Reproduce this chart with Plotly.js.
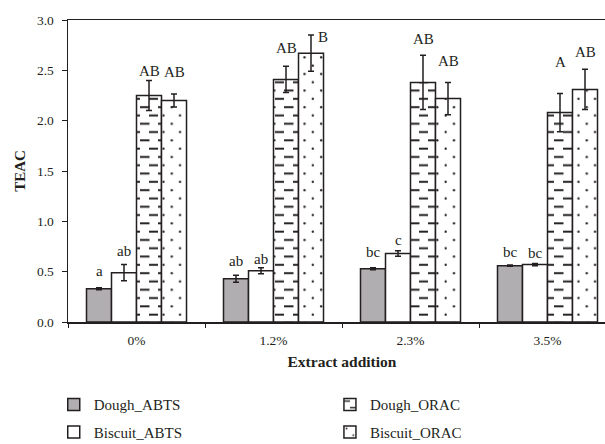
<!DOCTYPE html>
<html>
<head>
<meta charset="utf-8">
<script src="https://cdn.plot.ly/plotly-3.0.1.min.js"></script>
<style>
html, body { margin: 0; padding: 0; overflow: hidden; background: #fff; }
#chart { width: 616px; height: 444px; }
</style>
</head>
<body>
<div id="chart"></div>
<script>
// ---- data ----
var categories = ['0%', '1.2%', '2.3%', '3.5%'];
var seriesNames = ['Dough_ABTS', 'Biscuit_ABTS', 'Dough_ORAC', 'Biscuit_ORAC'];
var doughABTS = [0.33, 0.43, 0.53, 0.56];
var doughABTSErr = [0.01, 0.035, 0.01, 0.005];
var biscuitABTS = [0.49, 0.51, 0.68, 0.57];
var biscuitABTSErr = [0.08, 0.03, 0.027, 0.01];
var doughORAC = [2.25, 2.41, 2.38, 2.08];
var doughORACErr = [0.15, 0.13, 0.27, 0.19];
var biscuitORAC = [2.20, 2.67, 2.22, 2.31];
var biscuitORACErr = [0.065, 0.18, 0.16, 0.20];
var letters = [
  ['a', 'ab', 'bc', 'bc'],
  ['ab', 'ab', 'c', 'bc'],
  ['AB', 'AB', 'AB', 'A'],
  ['AB', 'B', 'AB', 'AB']
];

// ---- styling ----
var FONT = 'Liberation Serif, Times New Roman, serif';
var INK = '#231f20';
var values = [doughABTS, biscuitABTS, doughORAC, biscuitORAC];
var errs = [doughABTSErr, biscuitABTSErr, doughORACErr, biscuitORACErr];
var markers = [
  {color: '#b0aeb0', line: {color: INK, width: 1.5}},
  {color: '#ffffff', line: {color: INK, width: 1.5}},
  {color: '#ffffff', line: {color: INK, width: 1.5},
   pattern: {shape: '-', size: 8.3, solidity: 0.24, fgcolor: INK, bgcolor: '#ffffff', fillmode: 'replace'}},
  {color: '#ffffff', line: {color: INK, width: 1.5},
   pattern: {shape: '.', size: 8.3, solidity: 0.06, fgcolor: INK, bgcolor: '#ffffff', fillmode: 'replace'}}
];
var legendIds = ['legend', 'legend', 'legend2', 'legend2'];

var traces = seriesNames.map(function (name, i) {
  return {
    type: 'bar',
    name: name,
    x: categories,
    y: values[i],
    marker: markers[i],
    error_y: {type: 'data', array: errs[i], visible: true, color: INK, thickness: 1.5, width: 3},
    legend: legendIds[i],
    legendgroup: 'g' + i,
    hoverinfo: 'skip'
  };
});

// label offsets (pixels above the error-bar top) per series, per category
var labelShift = [
  [7, 4, 6, 3],
  [4, -1, 1, 1],
  [-1, 8, 6, 21],
  [12, 0, 11, 7]
];
var bargap = 0.27;
var barW = (1 - bargap) / 4;
var annotations = [];
for (var s = 0; s < 4; s++) {
  for (var c = 0; c < 4; c++) {
    var special = (s === 3 && c === 1); // label placed beside the error bar
    annotations.push({
      x: c + (s - 1.5) * barW,
      y: values[s][c] + errs[s][c],
      xref: 'x', yref: 'y',
      text: letters[s][c],
      showarrow: false,
      xanchor: 'center',
      yanchor: special ? 'middle' : 'bottom',
      xshift: special ? 12 : 0,
      yshift: special ? -2 : labelShift[s][c],
      font: {family: FONT, size: 15, color: INK}
    });
  }
}

var layout = {
  width: 616,
  height: 444,
  margin: {l: 68, r: 0, t: 20, b: 122, autoexpand: false},
  paper_bgcolor: '#ffffff',
  plot_bgcolor: '#ffffff',
  font: {family: FONT, size: 13.5, color: INK},
  barmode: 'group',
  bargap: bargap,
  bargroupgap: 0,
  showlegend: true,
  xaxis: {
    type: 'category',
    range: [-0.5, 3.5],
    showline: true, linecolor: INK, linewidth: 1.5, mirror: true,
    ticks: 'outside', tickson: 'boundaries', ticklen: 4, tickwidth: 1, tickcolor: INK,
    ticklabelstandoff: 5,
    showgrid: false, zeroline: false,
    tickfont: {family: FONT, size: 13.5, color: INK},
    title: {text: '<b>Extract addition</b>', font: {family: FONT, size: 15.5, color: INK}, standoff: 9}
  },
  yaxis: {
    range: [0, 3],
    dtick: 0.5,
    tickformat: '.1f',
    showline: true, linecolor: INK, linewidth: 1.5, mirror: true,
    ticks: 'outside', ticklen: 5, tickwidth: 1, tickcolor: INK,
    ticklabelstandoff: 5,
    showgrid: false, zeroline: false,
    tickfont: {family: FONT, size: 13.5, color: INK},
    title: {text: '<b>TEAC</b>', font: {family: FONT, size: 15, color: INK}, standoff: 7}
  },
  legend: {
    x: -0.026, y: -0.219, xanchor: 'left', yanchor: 'top',
    orientation: 'v', tracegroupgap: 5,
    font: {family: FONT, size: 15, color: INK},
    bgcolor: 'rgba(0,0,0,0)'
  },
  legend2: {
    x: 0.478, y: -0.219, xanchor: 'left', yanchor: 'top',
    orientation: 'v', tracegroupgap: 5,
    font: {family: FONT, size: 15, color: INK},
    bgcolor: 'rgba(0,0,0,0)'
  },
  annotations: annotations
};

// Reshape the fill patterns into the staggered dash / dot tiles of the reference.
function restyleTiles(gd) {
  var tiles = gd.querySelectorAll('pattern');
  for (var i = 0; i < tiles.length; i++) {
    var p = tiles[i];
    var path = p.querySelector('path');
    var circ = p.querySelector('circle');
    var rect = p.querySelector('rect');
    var W = 16.6;
    if (path) {
      p.setAttribute('width', 18);
      p.setAttribute('height', W);
      if (rect) { rect.setAttribute('width', 18); rect.setAttribute('height', W); }
      path.setAttribute('d', 'M0,4.15h9.5M9,12.45h9.5');
    } else if (circ) {
      p.setAttribute('width', W);
      p.setAttribute('height', W);
      if (rect) { rect.setAttribute('width', W); rect.setAttribute('height', W); }
      circ.setAttribute('cx', 4.15);
      circ.setAttribute('cy', 4.15);
      var c2 = circ.cloneNode(true);
      c2.setAttribute('cx', 12.45);
      c2.setAttribute('cy', 12.45);
      p.appendChild(c2);
    }
  }
}

Plotly.newPlot('chart', traces, layout, {staticPlot: true, displayModeBar: false})
  .then(function (gd) { restyleTiles(gd); });
</script>
</body>
</html>
